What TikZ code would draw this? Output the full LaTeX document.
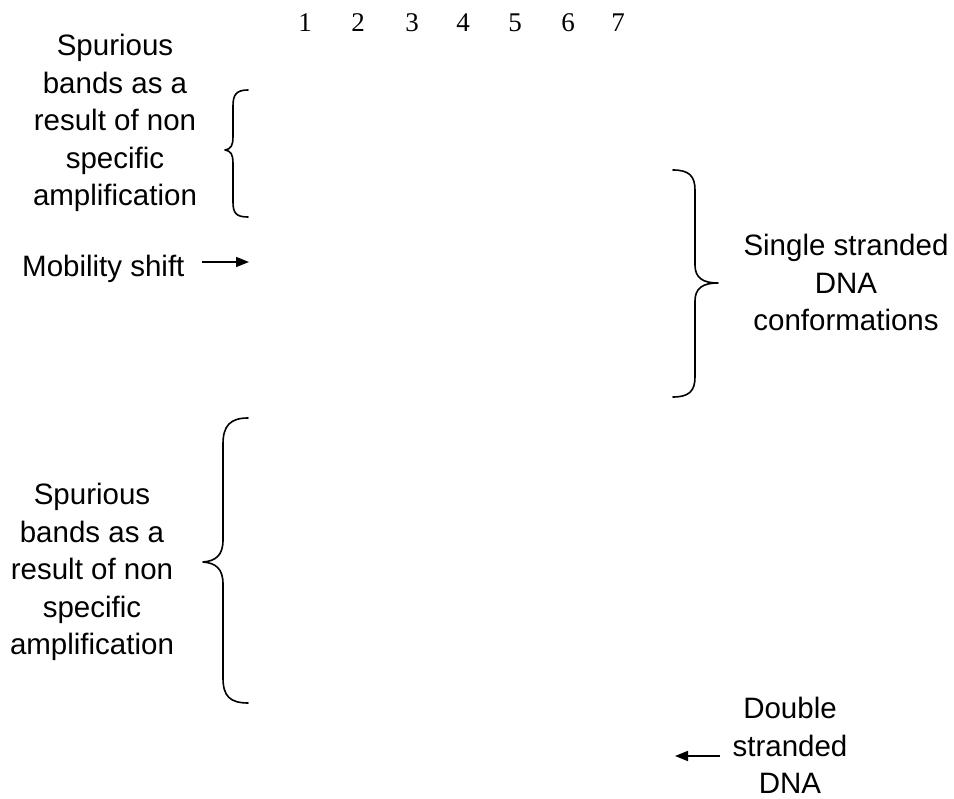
\documentclass[tikz,border=0pt]{standalone}
\usepackage{fontspec}
\setmainfont{Liberation Sans}
\newfontfamily\numfont{Liberation Serif}
\usetikzlibrary{arrows.meta}
\tikzset{
  lbl/.style={align=center, inner sep=0pt, font=\fontsize{29.5}{37.5}\selectfont},
  lane/.style={inner sep=0pt, anchor=base, font=\numfont\fontsize{27}{30}\selectfont},
  bracepath/.style={line width=1.6pt, line cap=round, line join=round},
  pointer/.style={line width=1.6pt, -{Triangle[length=13pt,width=10pt]}}
}
\begin{document}
\begin{tikzpicture}[x=1pt,y=-1pt]
\useasboundingbox (0,0) rectangle (954,799);
% lane numbers
\foreach \n/\x in {1/305,2/358,3/412,4/463,5/515,6/568,7/618}
  \node[lane] (lane\n) at (\x,32) {\n};

% left upper label and brace
\node[lbl, anchor=north] (spur1) at (115,34) {Spurious\\bands as a\\result of non\\specific\\amplification};
\draw[bracepath] (248,90) .. controls (236,90) and (233,95) .. (233,106)
  -- (233,136) .. controls (233,146) and (231,149) .. (225,150)
  .. controls (231,151) and (233,154) .. (233,164)
  -- (233,202) .. controls (233,213) and (236,217) .. (248,217);

% mobility shift
\node[lbl, anchor=base west] (mob) at (22,277) {Mobility shift};
\coordinate (mobtip) at (249,262);
\draw[pointer] (mob.east |- mobtip) ++(17,0) coordinate (mobtail) -- (mobtip);

% right brace and label
\draw[bracepath] (673,170) .. controls (689,170) and (695,176) .. (695,190)
  -- (695,265) .. controls (695,278) and (703,283) .. (718,283)
  .. controls (703,283) and (695,288) .. (695,301)
  -- (695,377) .. controls (695,391) and (689,397) .. (673,397);
\node[lbl, anchor=north] (ss) at (846,234) {Single stranded\\DNA\\conformations};

% left lower label and brace
\node[lbl, anchor=north] (spur2) at (92,483) {Spurious\\bands as a\\result of non\\specific\\amplification};
\draw[bracepath] (248,418) .. controls (230,418) and (223,426) .. (223,444)
  -- (223,540) .. controls (223,555) and (216,561) .. (203,562)
  .. controls (216,563) and (223,569) .. (223,584)
  -- (223,678) .. controls (223,696) and (230,703) .. (248,703);

% double stranded
\node[lbl, anchor=north] (ds) at (790,697) {Double\\stranded\\DNA};
\coordinate (dstip) at (675,756);
\draw[pointer] (720,756) coordinate (dstail) -- (dstip);
\end{tikzpicture}
\end{document}
